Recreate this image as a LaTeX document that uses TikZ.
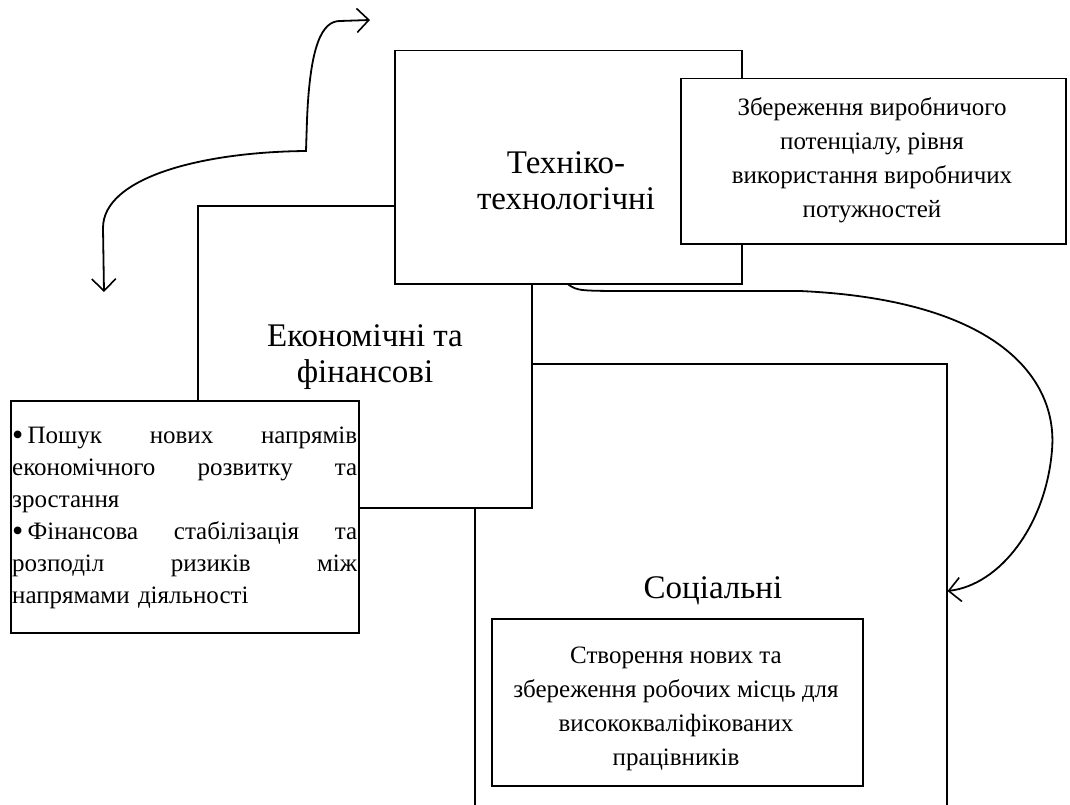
\documentclass[tikz,border=0pt]{standalone}
\usepackage{fontspec}
\setmainfont{Liberation Serif}
\usetikzlibrary{arrows.meta}
\newcommand{\bul}{{\fontsize{32}{32}\selectfont\raisebox{-0.05em}{•}}\,}
\newcommand{\fullline}[1]{\leavevmode\hbox to 345pt{#1}}
\begin{document}
\begin{tikzpicture}[x=1pt,y=-1pt,
  frame/.style={draw, line width=1.5pt, fill=white, inner sep=0pt, anchor=north west},
  head/.style={font=\fontsize{33}{36}\selectfont, align=center, inner sep=0pt},
  body/.style={font=\fontsize{25}{34}\selectfont, align=center, inner sep=0pt},
  link/.style={line width=1.8pt, line cap=round,
    {Straight Barb[length=12pt,width=24pt,line width=1.6pt]}-{Straight Barb[length=12pt,width=24pt,line width=1.6pt]}},
  onelink/.style={line width=1.8pt, line cap=round,
    -{Straight Barb[length=12pt,width=24pt,line width=1.6pt]}}]
\clip (0,0) rectangle (1070,805);
\fill[white] (0,0) rectangle (1070,805);

% boxes, from back to front
\node[frame, minimum width=472pt, minimum height=500pt] (soc) at (474,363) {};
\node[frame, minimum width=334pt, minimum height=302pt] (eco) at (197,205) {};
\node[frame, minimum width=347pt, minimum height=233pt] (tech) at (394,50) {};
\node[frame, minimum width=385pt, minimum height=165pt] (save) at (680,78) {};
\node[frame, minimum width=348pt, minimum height=232pt] (fin) at (10,400) {};
\node[frame, minimum width=371pt, minimum height=167pt] (jobs) at (491,618) {};

% headings
\node[head] (techt) at (566,181) {Техніко-\\технологічні};
\node[head] (ecot) at (365,357) {Економічні та\\фінансові};
\node[head] (soct) at (713,591) {Соціальні};

% descriptions
\node[body] (savet) at (872,160) {Збереження виробничого\\потенціалу, рівня\\використання виробничих\\потужностей};
\node[body] (jobst) at (676,709) {Створення нових та\\збереження робочих місць для\\висококваліфікованих\\працівників};
\node[body, anchor=north west, text width=345pt, align=left,
      font=\fontsize{25}{32}\selectfont] (fint) at (12,427) {%
\fullline{\bul Пошук\hfill нових\hfill напрямів}\\
\fullline{економічного\hfill розвитку\hfill та}\\
зростання\\
\fullline{\bul Фінансова\hfill стабілізація\hfill та}\\
\fullline{розподіл\hfill ризиків\hfill між}\\
напрямами діяльності};

% arrows
\coordinate (lefttip) at (104,292);
\coordinate (toptip) at (370,20);
\draw[link] (lefttip) -- (103,228) .. controls (103,178) and (200,152) .. (306,151)
  -- (307,120) .. controls (310,45) and (322,21) .. (340,21) -- (toptip);
\draw[onelink] (tech.south) .. controls (578,291) .. (640,291) -- (800,291)
  .. controls (1000,300) and (1058,380) .. (1052,450)
  .. controls (1046,525) and (1000,585) .. (soc.east |- soct);
\end{tikzpicture}
\end{document}
